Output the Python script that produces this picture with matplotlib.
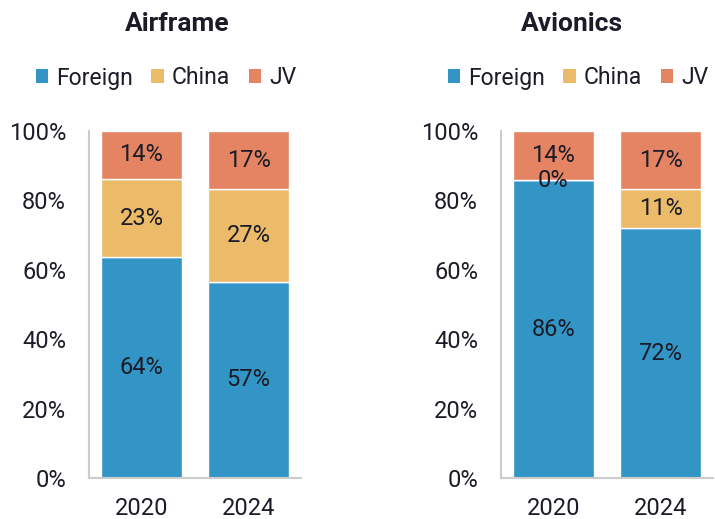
import matplotlib.pyplot as plt
from matplotlib.patches import Patch

plt.rcParams['font.family'] = ['Roboto', 'DejaVu Sans']

years = ['2020', '2024']
series = ['Foreign', 'China', 'JV']
colors = ['#3394c6', '#ebbb69', '#e48463']

airframe_foreign = [63.6, 56.6]
airframe_china = [22.6, 26.6]
airframe_jv = [13.8, 16.8]

avionics_foreign = [85.8, 72.0]
avionics_china = [0.0, 11.2]
avionics_jv = [14.2, 16.8]

text_color = '#1c1c28'
spine_color = '#cccccc'


def stacked(ax, foreign, china, jv):
    x = range(len(years))
    bottom = [0.0] * len(years)
    for vals, col in zip([foreign, china, jv], colors):
        bars = ax.bar(x, vals, width=0.76, bottom=bottom, color=col,
                      edgecolor='white', linewidth=1)
        for b, v, b0 in zip(bars, vals, bottom):
            ax.text(b.get_x() + b.get_width() / 2, b0 + v / 2, f'{round(v)}%',
                    ha='center', va='center', fontsize=17, color=text_color)
        bottom = [a + b for a, b in zip(bottom, vals)]
    ax.set_xlim(-0.49, 1.49)
    ax.set_ylim(0, 100)
    ax.set_xticks(list(x))
    ax.set_xticklabels(years)
    ax.set_yticks(range(0, 101, 20))
    ax.set_yticklabels([f'{v}%' for v in range(0, 101, 20)])
    ax.tick_params(length=0, labelsize=17, colors=text_color)
    ax.tick_params(axis='y', pad=16.5)
    ax.tick_params(axis='x', pad=14)
    for s in ['top', 'right']:
        ax.spines[s].set_visible(False)
    for s in ['left', 'bottom']:
        ax.spines[s].set_color(spine_color)
        ax.spines[s].set_linewidth(1.5)


fig = plt.figure(figsize=(7.15, 5.19), dpi=100)
ax1 = fig.add_axes([0.1245, 0.079, 0.2965, 0.6686])
ax2 = fig.add_axes([0.7007, 0.079, 0.2965, 0.6686])

stacked(ax1, airframe_foreign, airframe_china, airframe_jv)
stacked(ax2, avionics_foreign, avionics_china, avionics_jv)

fig.text(177 / 715, 1 - 24 / 519, 'Airframe', ha='center', va='center',
         fontsize=19, fontweight='bold', color=text_color)
fig.text(572 / 715, 1 - 24 / 519, 'Avionics', ha='center', va='center',
         fontsize=19, fontweight='bold', color=text_color)

handles = [Patch(facecolor=c, edgecolor='none') for c in colors]
for cx in [166 / 715, 578 / 715]:
    fig.legend(handles, series, loc='center', bbox_to_anchor=(cx, 1 - 78 / 519),
               ncol=3, frameon=False, fontsize=16.5, handlelength=0.55,
               handleheight=0.55, handletextpad=0.35, columnspacing=0.8,
               borderpad=0, borderaxespad=0, labelcolor=text_color)

fig.savefig('out.png', dpi=100)
